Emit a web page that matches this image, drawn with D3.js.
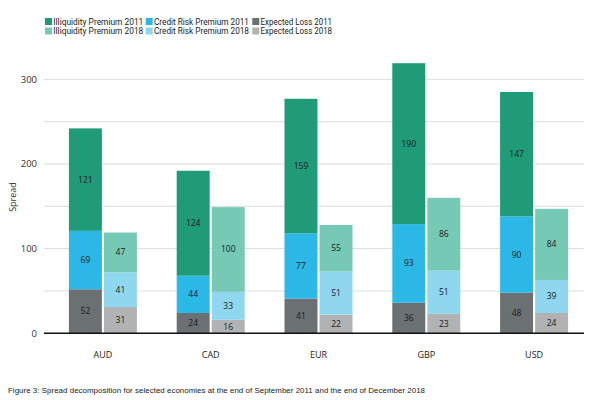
<!DOCTYPE html>
<html>
<head>
<meta charset="utf-8">
<script src="https://cdn.jsdelivr.net/npm/d3@7"></script>
<style>
  body { margin: 0; background: #fff; }
  text { font-family: "Open Sans", sans-serif; }
</style>
</head>
<body>
<div id="chart"></div>
<script>
// data
const economies = ["AUD", "CAD", "EUR", "GBP", "USD"];
const years = ["2011", "2018"];
const expectedLoss2011 = [52, 24, 41, 36, 48];
const creditRisk2011 = [69, 44, 77, 93, 90];
const illiquidity2011 = [121, 124, 159, 190, 147];
const expectedLoss2018 = [31, 16, 22, 23, 24];
const creditRisk2018 = [41, 33, 51, 51, 39];
const illiquidity2018 = [47, 100, 55, 86, 84];
const yTicks = [0, 100, 200, 300];
const gridTicks = [0, 50, 100, 150, 200, 250, 300];

const legendItems = [
  ["Illiquidity Premium 2011", "#1f9b78"],
  ["Credit Risk Premium 2011", "#2cb8e6"],
  ["Expected Loss 2011", "#6b7072"],
  ["Illiquidity Premium 2018", "#76c9b4"],
  ["Credit Risk Premium 2018", "#8fd7ef"],
  ["Expected Loss 2018", "#b0b2b4"]
];

const colors = {
  "2011": ["#6b7072", "#2cb8e6", "#1f9b78"],
  "2018": ["#b0b2b4", "#8fd7ef", "#76c9b4"]
};

const width = 600, height = 400;
const svg = d3.select("#chart").append("svg")
  .attr("width", width).attr("height", height);

// scales
const x = d3.scaleBand().domain(economies).range([49, 588]);
const yearX = d3.scaleBand().domain(years).range([-34, 34]).paddingInner(4 / 68);
const y = d3.scaleLinear().domain([0, 300]).range([333.3, 79.3]);

// grid
svg.append("g").selectAll("line")
  .data(gridTicks.filter(d => d > 0))
  .join("line")
  .attr("x1", 44).attr("x2", 584)
  .attr("y1", d => y(d)).attr("y2", d => y(d))
  .attr("stroke", "#dcdcdc").attr("stroke-width", 1);

// y tick labels
svg.append("g").selectAll("text")
  .data(yTicks)
  .join("text")
  .attr("x", 37).attr("y", d => y(d) + 3.5)
  .attr("text-anchor", "end")
  .attr("font-size", 9.5).attr("fill", "#333")
  .text(d => d);

svg.append("text")
  .attr("transform", "translate(16,197) rotate(-90)")
  .attr("text-anchor", "middle")
  .attr("font-size", 9).attr("fill", "#333")
  .text("Spread");

// stacked bars
const rows = [];
economies.forEach((e, i) => {
  rows.push({ eco: e, year: "2011", vals: [expectedLoss2011[i], creditRisk2011[i], illiquidity2011[i]] });
  rows.push({ eco: e, year: "2018", vals: [expectedLoss2018[i], creditRisk2018[i], illiquidity2018[i]] });
});

const segs = [];
rows.forEach(r => {
  let base = 0;
  r.vals.forEach((v, k) => {
    segs.push({ eco: r.eco, year: r.year, k: k, v: v, y0: base, y1: base + v });
    base += v;
  });
});

const cx = d => x(d.eco) + x.bandwidth() / 2 + yearX(d.year);

svg.append("g").selectAll("rect")
  .data(segs)
  .join("rect")
  .attr("x", cx)
  .attr("width", yearX.bandwidth())
  .attr("y", d => y(d.y1))
  .attr("height", d => y(d.y0) - y(d.y1))
  .attr("fill", d => colors[d.year][d.k]);

svg.append("g").selectAll("text")
  .data(segs)
  .join("text")
  .attr("x", d => cx(d) + yearX.bandwidth() / 2)
  .attr("y", d => y((d.y0 + d.y1) / 2) + 3)
  .attr("text-anchor", "middle")
  .attr("font-size", 8.5).attr("fill", "#1a1a1a")
  .text(d => d.v);

// baseline
svg.append("line")
  .attr("x1", 44).attr("x2", 584)
  .attr("y1", y(0)).attr("y2", y(0))
  .attr("stroke", "#111").attr("stroke-width", 1.5);

// x labels
svg.append("g").selectAll("text")
  .data(economies)
  .join("text")
  .attr("x", d => x(d) + x.bandwidth() / 2)
  .attr("y", 358)
  .attr("text-anchor", "middle")
  .attr("font-size", 9).attr("fill", "#222")
  .text(d => d);

// legend
const colX = [45, 145.7, 252.3];
const colW = [90, 95, 71.5];
const leg = svg.append("g").selectAll("g")
  .data(legendItems)
  .join("g")
  .attr("transform", (d, i) => `translate(${colX[i % 3]},${i < 3 ? 18 : 27.5})`);
leg.append("rect").attr("width", 7).attr("height", 7).attr("fill", d => d[1]);
leg.append("text").attr("x", 8.3).attr("y", 6.8)
  .style("font-family", "'Liberation Sans Narrow', 'Roboto', sans-serif")
  .attr("font-size", 9.5).attr("fill", "#222")
  .attr("textLength", (d, i) => colW[i % 3])
  .attr("lengthAdjust", "spacingAndGlyphs")
  .text(d => d[0]);

// caption
svg.append("text")
  .attr("x", 8).attr("y", 393)
  .style("font-family", "'Liberation Sans', Arial, sans-serif")
  .attr("font-size", 7.9).attr("fill", "#222")
  .attr("textLength", 417)
  .text("Figure 3: Spread decomposition for selected economies at the end of September 2011 and the end of December 2018");
</script>
</body>
</html>
